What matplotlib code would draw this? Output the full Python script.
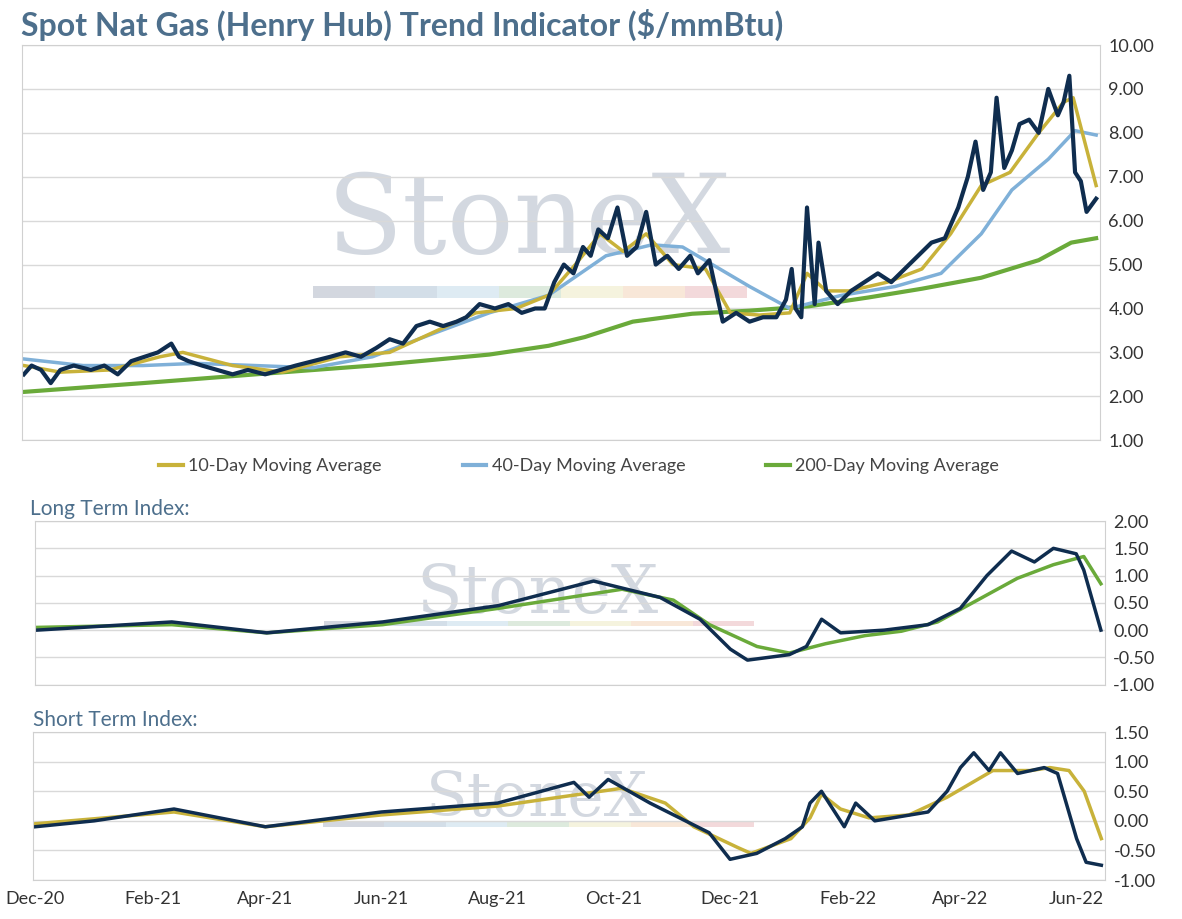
import matplotlib
matplotlib.use('Agg')
import matplotlib.pyplot as plt
import pandas as pd

plt.rcParams['font.family'] = ['Lato', 'DejaVu Sans']

NAVY = '#0f2d4f'
GOLD = '#c8b23a'
LBLUE = '#7fb0d8'
GREEN = '#6aaa3a'
TXT = '#4d6f8c'

# ── Top panel: spot price and moving averages ─────────────────────────────
spot_dates = [
    '2020-12-01', '2020-12-05', '2020-12-10', '2020-12-15', '2020-12-20', '2020-12-27',
    '2021-01-05', '2021-01-12', '2021-01-19', '2021-01-26', '2021-02-02', '2021-02-09',
    '2021-02-16', '2021-02-20', '2021-02-25', '2021-03-04', '2021-03-12', '2021-03-20',
    '2021-03-28', '2021-04-06', '2021-04-14', '2021-04-22', '2021-05-01', '2021-05-10',
    '2021-05-18', '2021-05-26', '2021-06-03', '2021-06-10', '2021-06-17', '2021-06-24',
    '2021-07-01', '2021-07-08', '2021-07-15', '2021-07-20', '2021-07-27', '2021-08-04',
    '2021-08-11', '2021-08-18', '2021-08-25', '2021-08-30', '2021-09-04', '2021-09-09',
    '2021-09-14', '2021-09-19', '2021-09-23', '2021-09-27', '2021-10-02', '2021-10-07',
    '2021-10-12', '2021-10-17', '2021-10-22', '2021-10-27', '2021-11-02', '2021-11-08',
    '2021-11-14', '2021-11-18', '2021-11-24', '2021-12-01', '2021-12-08', '2021-12-15',
    '2021-12-22', '2021-12-29', '2022-01-03', '2022-01-06', '2022-01-08', '2022-01-11',
    '2022-01-14', '2022-01-18', '2022-01-20', '2022-01-24', '2022-01-30', '2022-02-06',
    '2022-02-13', '2022-02-20', '2022-02-27', '2022-03-06', '2022-03-13', '2022-03-20',
    '2022-03-27', '2022-04-03', '2022-04-08', '2022-04-12', '2022-04-16', '2022-04-20',
    '2022-04-23', '2022-04-27', '2022-05-01', '2022-05-05', '2022-05-10', '2022-05-15',
    '2022-05-20', '2022-05-25', '2022-05-28', '2022-05-31', '2022-06-03', '2022-06-06',
    '2022-06-09', '2022-06-14',
]
spot_vals = [
    2.5, 2.7, 2.6, 2.3, 2.6, 2.7,
    2.6, 2.7, 2.5, 2.8, 2.9, 3.0,
    3.2, 2.9, 2.8, 2.7, 2.6, 2.5,
    2.6, 2.5, 2.6, 2.7, 2.8, 2.9,
    3.0, 2.9, 3.1, 3.3, 3.2, 3.6,
    3.7, 3.6, 3.7, 3.8, 4.1, 4.0,
    4.1, 3.9, 4.0, 4.0, 4.6, 5.0,
    4.8, 5.4, 5.2, 5.8, 5.6, 6.3,
    5.2, 5.4, 6.2, 5.0, 5.2, 4.9,
    5.2, 4.8, 5.1, 3.7, 3.9, 3.7,
    3.8, 3.8, 4.2, 4.9, 4.0, 3.8,
    6.3, 4.1, 5.5, 4.4, 4.1, 4.4,
    4.6, 4.8, 4.6, 4.9, 5.2, 5.5,
    5.6, 6.3, 7.0, 7.8, 6.7, 7.1,
    8.8, 7.2, 7.6, 8.2, 8.3, 8.0,
    9.0, 8.4, 8.7, 9.3, 7.1, 6.9,
    6.2, 6.5,
]
ma10_dates = [
    '2020-12-01', '2020-12-20', '2021-01-15', '2021-02-10', '2021-02-22', '2021-03-20',
    '2021-04-15', '2021-05-15', '2021-06-10', '2021-07-05', '2021-07-25', '2021-08-15',
    '2021-09-01', '2021-09-15', '2021-09-28', '2021-10-10', '2021-10-22', '2021-11-05',
    '2021-11-22', '2021-12-05', '2021-12-20', '2022-01-05', '2022-01-14', '2022-01-24',
    '2022-02-05', '2022-02-25', '2022-03-15', '2022-03-30', '2022-04-15', '2022-04-30',
    '2022-05-15', '2022-05-28', '2022-06-02', '2022-06-14',
]
ma10_vals = [
    2.7, 2.55, 2.6, 2.9, 3.0, 2.7,
    2.55, 2.9, 3.0, 3.5, 3.9, 4.0,
    4.3, 5.0, 5.7, 5.3, 5.7, 5.0,
    4.9, 3.9, 3.85, 3.9, 4.8, 4.4,
    4.4, 4.6, 4.9, 5.7, 6.8, 7.1,
    8.0, 8.7, 8.8, 6.8,
]
ma40_dates = [
    '2020-12-01', '2021-01-01', '2021-02-01', '2021-03-01', '2021-04-01', '2021-05-01',
    '2021-06-01', '2021-07-01', '2021-08-01', '2021-09-01', '2021-10-01', '2021-10-25',
    '2021-11-10', '2021-12-15', '2022-01-05', '2022-02-01', '2022-03-01', '2022-03-25',
    '2022-04-15', '2022-05-01', '2022-05-20', '2022-06-03', '2022-06-14',
]
ma40_vals = [
    2.85, 2.7, 2.7, 2.75, 2.7, 2.65,
    2.9, 3.4, 3.9, 4.3, 5.2, 5.45,
    5.4, 4.5, 4.0, 4.3, 4.5, 4.8,
    5.7, 6.7, 7.4, 8.05, 7.95,
]
ma200_dates = [
    '2020-12-01', '2021-02-01', '2021-04-01', '2021-06-01', '2021-08-01', '2021-09-01',
    '2021-09-20', '2021-10-15', '2021-11-15', '2021-12-15', '2022-01-15', '2022-02-15',
    '2022-03-15', '2022-04-15', '2022-05-15', '2022-06-01', '2022-06-14',
]
ma200_vals = [
    2.1, 2.3, 2.5, 2.7, 2.95, 3.15,
    3.35, 3.7, 3.88, 3.95, 4.05, 4.25,
    4.45, 4.7, 5.1, 5.5, 5.6,
]

# ── Long Term Index ───────────────────────────────────────────────────────
lt_dates = [
    '2020-12-01', '2021-02-10', '2021-04-01', '2021-06-01', '2021-08-01', '2021-09-20',
    '2021-10-25', '2021-11-15', '2021-12-01', '2021-12-10', '2022-01-01', '2022-01-10',
    '2022-01-18', '2022-01-28', '2022-02-20', '2022-03-15', '2022-04-01', '2022-04-15',
    '2022-04-28', '2022-05-10', '2022-05-20', '2022-06-01', '2022-06-05', '2022-06-14',
]
lt_fast = [
    0.0, 0.15, -0.05, 0.15, 0.45, 0.9,
    0.6, 0.2, -0.35, -0.55, -0.45, -0.3,
    0.2, -0.05, 0.0, 0.1, 0.4, 1.0,
    1.45, 1.25, 1.5, 1.4, 1.1, 0.0,
]
lt_slow_dates = [
    '2020-12-01', '2021-02-10', '2021-04-01', '2021-06-01', '2021-08-01', '2021-10-05',
    '2021-11-01', '2021-11-20', '2021-12-15', '2022-01-01', '2022-01-20', '2022-02-10',
    '2022-03-01', '2022-03-20', '2022-04-10', '2022-05-01', '2022-05-20', '2022-06-05',
    '2022-06-14',
]
lt_slow = [
    0.05, 0.1, -0.05, 0.1, 0.4, 0.75,
    0.55, 0.1, -0.3, -0.42, -0.25, -0.1,
    -0.02, 0.15, 0.55, 0.95, 1.2, 1.35,
    0.85,
]

# ── Short Term Index ──────────────────────────────────────────────────────
st_dates = [
    '2020-12-01', '2021-01-01', '2021-02-12', '2021-04-01', '2021-06-01', '2021-08-01',
    '2021-09-10', '2021-09-18', '2021-09-28', '2021-10-20', '2021-11-20', '2021-12-01',
    '2021-12-15', '2021-12-30', '2022-01-08', '2022-01-12', '2022-01-18', '2022-01-30',
    '2022-02-05', '2022-02-15', '2022-03-15', '2022-03-25', '2022-04-01', '2022-04-08',
    '2022-04-16', '2022-04-22', '2022-05-01', '2022-05-15', '2022-05-22', '2022-06-01',
    '2022-06-06', '2022-06-14',
]
st_fast = [
    -0.1, 0.0, 0.2, -0.1, 0.15, 0.3,
    0.65, 0.4, 0.7, 0.3, -0.2, -0.65,
    -0.55, -0.3, -0.1, 0.3, 0.5, -0.1,
    0.3, 0.0, 0.15, 0.5, 0.9, 1.15,
    0.85, 1.15, 0.8, 0.9, 0.8, -0.3,
    -0.7, -0.75,
]
st_slow_dates = [
    '2020-12-01', '2021-02-12', '2021-04-01', '2021-06-01', '2021-08-01', '2021-10-05',
    '2021-10-28', '2021-11-12', '2021-12-05', '2021-12-12', '2022-01-02', '2022-01-12',
    '2022-01-18', '2022-01-28', '2022-02-12', '2022-03-05', '2022-03-25', '2022-04-18',
    '2022-05-08', '2022-05-18', '2022-05-28', '2022-06-05', '2022-06-14',
]
st_slow = [
    -0.05, 0.15, -0.1, 0.1, 0.25, 0.55,
    0.3, -0.1, -0.45, -0.55, -0.3, 0.05,
    0.45, 0.2, 0.05, 0.1, 0.4, 0.85,
    0.85, 0.9, 0.85, 0.5, -0.3,
]

x_ticks = ['2020-12-01', '2021-02-01', '2021-04-01', '2021-06-01', '2021-08-01',
           '2021-10-01', '2021-12-01', '2022-02-01', '2022-04-01', '2022-06-01']

XMIN, XMAX = pd.Timestamp('2020-11-30'), pd.Timestamp('2022-06-16')


def d(lst):
    return pd.to_datetime(lst)


def style_ax(ax, ylim, yticks, wm_size):
    ax.set_xlim(XMIN, XMAX)
    ax.set_ylim(*ylim)
    ax.set_yticks(yticks)
    ax.set_yticklabels([f'{v:.2f}' for v in yticks], color='#333333', fontsize=13)
    ax.yaxis.tick_right()
    ax.tick_params(axis='y', length=0, pad=6)
    ax.grid(axis='y', color='#d9d9d9', lw=1)
    ax.set_axisbelow(True)
    for s in ax.spines.values():
        s.set_color('#d0d0d0')
    ax.set_xticks(d(x_ticks))
    ax.set_xticklabels([])
    ax.tick_params(axis='x', length=0)
    # watermark
    ax.text(0.47, 0.55, 'StoneX', transform=ax.transAxes, ha='center', va='center',
            fontsize=wm_size, family='DejaVu Serif', color='#c5ccd6', alpha=0.75, zorder=0)
    cols = ['#c8ced8', '#c9d6e3', '#d6e6f0', '#d5e5d5', '#f3f0d6', '#f7e2cf', '#f1d0d2']
    for i, c in enumerate(cols):
        ax.add_patch(plt.Rectangle((0.27 + i * 0.0575, 0.36), 0.0575, 0.03,
                                   transform=ax.transAxes, color=c, alpha=0.8,
                                   lw=0, zorder=0))


fig = plt.figure(figsize=(11.82, 9.19), dpi=100)

ax1 = fig.add_axes([0.0186, 0.521, 0.912, 0.430])
style_ax(ax1, (1, 10), [1, 2, 3, 4, 5, 6, 7, 8, 9, 10], 80)
ax1.plot(d(ma200_dates), ma200_vals, color=GREEN, lw=3)
ax1.plot(d(ma40_dates), ma40_vals, color=LBLUE, lw=2.5)
ax1.plot(d(ma10_dates), ma10_vals, color=GOLD, lw=2.5)
ax1.plot(d(spot_dates), spot_vals, color=NAVY, lw=3)

fig.text(0.018, 0.973, 'Spot Nat Gas (Henry Hub) Trend Indicator ($/mmBtu)',
         fontsize=23, fontweight='bold', color=TXT, va='center')

handles = [plt.Line2D([], [], color=GOLD, lw=3),
           plt.Line2D([], [], color=LBLUE, lw=3),
           plt.Line2D([], [], color=GREEN, lw=3)]
fig.legend(handles, ['10-Day Moving Average', '40-Day Moving Average', '200-Day Moving Average'],
           loc='center', bbox_to_anchor=(0.49, 0.493), ncol=3, frameon=False,
           fontsize=13, handlelength=1.3, columnspacing=4.5, handletextpad=0.3,
           labelcolor='#444444')

ax2 = fig.add_axes([0.0296, 0.255, 0.905, 0.178])
style_ax(ax2, (-1, 2), [-1, -0.5, 0, 0.5, 1, 1.5, 2], 48)
ax2.plot(d(lt_slow_dates), lt_slow, color=GREEN, lw=2.5)
ax2.plot(d(lt_dates), lt_fast, color=NAVY, lw=2.5)
fig.text(0.025, 0.446, 'Long Term Index:', fontsize=15, color=TXT, va='center')

ax3 = fig.add_axes([0.028, 0.0424, 0.907, 0.161])
style_ax(ax3, (-1, 1.5), [-1, -0.5, 0, 0.5, 1, 1.5], 44)
ax3.plot(d(st_slow_dates), st_slow, color=GOLD, lw=2.5)
ax3.plot(d(st_dates), st_fast, color=NAVY, lw=2.5)
ax3.set_xticklabels(pd.to_datetime(x_ticks).strftime('%b-%y'), color='#333333', fontsize=13)
ax3.tick_params(axis='x', pad=8)
fig.text(0.028, 0.216, 'Short Term Index:', fontsize=15, color=TXT, va='center')

fig.savefig('out.png', dpi=100)
